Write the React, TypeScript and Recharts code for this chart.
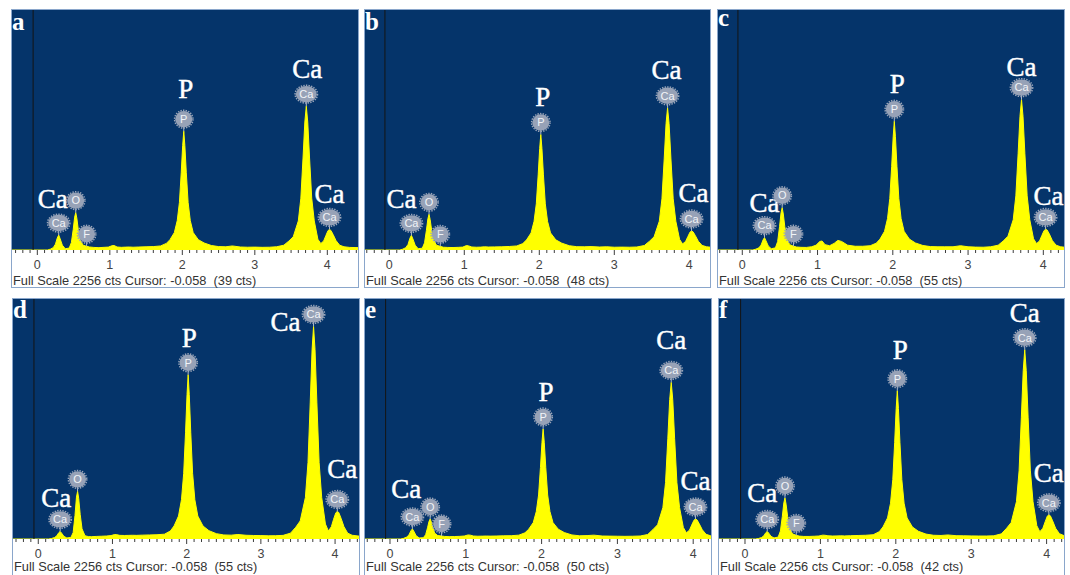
import React from 'react';
import { ComposedChart, Area, XAxis, YAxis, CartesianGrid, ReferenceLine, Scatter } from 'recharts';

// Energy grid (keV) shared by all six spectra
const ENERGY_KEV = [
  -0.4, 0.14, 0.18, 0.22, 0.25, 0.275, 0.295, 0.315, 0.345, 0.385,
  0.44, 0.47, 0.495, 0.515, 0.53, 0.545, 0.565, 0.59, 0.63, 0.68,
  0.72, 0.78, 0.85, 0.92, 0.98, 1.03, 1.06, 1.1, 1.16, 1.22,
  1.27, 1.32, 1.4, 1.5, 1.6, 1.7, 1.78, 1.83, 1.89, 1.93,
  1.96, 1.985, 2.005, 2.02, 2.035, 2.055, 2.08, 2.11, 2.15, 2.22,
  2.3, 2.4, 2.5, 2.6, 2.69, 2.8, 2.9, 3.0, 3.1, 3.2,
  3.3, 3.4, 3.47, 3.53, 3.6, 3.635, 3.665, 3.69, 3.71, 3.73,
  3.755, 3.785, 3.82, 3.87, 3.91, 3.95, 3.98, 4.01, 4.03, 4.05,
  4.08, 4.12, 4.17, 4.23, 4.31, 4.45,
];

// Counts for each spectrum (same order as ENERGY_KEV)
const SPEC_A = [
  0, 0, 8, 22, 55, 112, 140, 105, 45, 12,
  18, 70, 192, 308, 350, 298, 192, 98, 45, 35,
  28, 24, 22, 25, 27, 40, 42, 28, 25, 27,
  28, 26, 28, 30, 32, 38, 62, 97, 163, 275,
  445, 723, 979, 1112, 979, 723, 445, 275, 163, 97,
  66, 42, 32, 30, 38, 28, 26, 27, 25, 26,
  30, 45, 84, 124, 272, 485, 861, 1198, 1346, 1198,
  861, 485, 272, 100, 60, 85, 135, 182, 193, 183,
  145, 88, 45, 30, 24, 22,
];
const SPEC_B = [
  0, 0, 8, 22, 52, 110, 137, 103, 45, 12,
  17, 67, 184, 294, 334, 284, 184, 94, 44, 34,
  26, 24, 23, 25, 27, 42, 38, 28, 26, 27,
  30, 28, 29, 30, 33, 38, 60, 95, 160, 268,
  432, 703, 951, 1081, 951, 703, 432, 268, 160, 95,
  64, 40, 31, 30, 32, 28, 30, 26, 27, 26,
  28, 42, 83, 123, 270, 479, 852, 1185, 1331, 1185,
  852, 479, 270, 100, 57, 80, 125, 168, 178, 170,
  135, 82, 43, 30, 24, 22,
];
const SPEC_C = [
  0, 0, 8, 20, 46, 93, 116, 87, 38, 12,
  20, 79, 218, 348, 396, 337, 218, 111, 50, 36,
  28, 25, 24, 30, 45, 80, 84, 50, 40, 62,
  90, 80, 45, 35, 35, 40, 64, 102, 175, 295,
  482, 783, 1060, 1205, 1060, 783, 482, 295, 175, 102,
  66, 42, 32, 30, 30, 30, 40, 30, 27, 26,
  30, 45, 86, 129, 283, 507, 901, 1253, 1408, 1253,
  901, 507, 283, 105, 60, 85, 135, 182, 193, 188,
  150, 88, 45, 30, 24, 22,
];
const SPEC_D = [
  0, 0, 5, 14, 30, 58, 71, 55, 25, 10,
  15, 60, 220, 392, 446, 380, 230, 95, 30, 22,
  22, 24, 26, 28, 32, 42, 40, 34, 33, 34,
  35, 34, 36, 38, 40, 45, 75, 122, 215, 368,
  615, 1000, 1353, 1538, 1353, 1000, 615, 368, 215, 122,
  78, 50, 38, 36, 42, 35, 33, 32, 30, 31,
  34, 55, 110, 169, 388, 716, 1274, 1771, 1990, 1771,
  1274, 716, 388, 140, 75, 115, 185, 245, 258, 248,
  195, 115, 55, 35, 28, 25,
];
const SPEC_E = [
  0, 0, 6, 18, 38, 76, 94, 72, 30, 10,
  12, 40, 105, 165, 187, 160, 105, 55, 32, 28,
  24, 22, 23, 25, 28, 38, 36, 28, 26, 27,
  28, 27, 28, 30, 31, 36, 58, 92, 154, 257,
  412, 670, 906, 1030, 906, 670, 412, 257, 154, 92,
  60, 38, 30, 32, 36, 28, 27, 26, 25, 26,
  28, 42, 89, 133, 294, 528, 938, 1305, 1466, 1305,
  938, 528, 294, 108, 58, 82, 130, 176, 187, 180,
  142, 86, 44, 30, 24, 22,
];
const SPEC_F = [
  0, 0, 5, 14, 30, 58, 71, 55, 25, 10,
  18, 75, 211, 338, 384, 326, 211, 108, 48, 34,
  27, 24, 24, 26, 28, 36, 35, 30, 28, 29,
  30, 29, 31, 33, 35, 40, 68, 113, 197, 335,
  555, 902, 1221, 1388, 1221, 902, 555, 335, 197, 113,
  72, 46, 35, 33, 38, 31, 30, 29, 28, 28,
  30, 48, 101, 154, 349, 638, 1134, 1577, 1772, 1577,
  1134, 638, 349, 125, 68, 100, 160, 215, 227, 217,
  170, 100, 50, 32, 26, 23,
];

const FULL_SCALE = 2256;
const CURSOR_KEV = -0.058;
const CURSOR_COUNTS = [39, 48, 55, 55, 50, 42];
const PANEL_LETTERS = ['a', 'b', 'c', 'd', 'e', 'f'];
const MAJOR_TICKS = [0, 1, 2, 3, 4];
const SPECTRA = [SPEC_A, SPEC_B, SPEC_C, SPEC_D, SPEC_E, SPEC_F];

// peak indices into ENERGY_KEV
const I_CAL = 6, I_O = 14, I_F = 19, I_P = 43, I_CAKA = 68, I_CAKB = 78;

// annotation placement (pixel offsets of the big element labels)
const NOTES = [
  [{ i: I_CAL, tag: 'Ca', big: 'Ca', dx: -6, dy: -36 }, { i: I_O, tag: 'O' }, { i: I_F, tag: 'F' },
   { i: I_P, tag: 'P', big: 'P', dx: 2, dy: -42 }, { i: I_CAKA, tag: 'Ca', big: 'Ca', dx: 1, dy: -37 },
   { i: I_CAKB, tag: 'Ca', big: 'Ca', dx: 0, dy: -35 }],
  [{ i: I_CAL, tag: 'Ca', big: 'Ca', dx: -10, dy: -36 }, { i: I_O, tag: 'O' }, { i: I_F, tag: 'F' },
   { i: I_P, tag: 'P', big: 'P', dx: 2, dy: -38 }, { i: I_CAKA, tag: 'Ca', big: 'Ca', dx: -1, dy: -38 },
   { i: I_CAKB, tag: 'Ca', big: 'Ca', dx: 2, dy: -38 }],
  [{ i: I_CAL, tag: 'Ca', big: 'Ca', dx: 0, dy: -35 }, { i: I_O, tag: 'O' }, { i: I_F, tag: 'F' },
   { i: I_P, tag: 'P', big: 'P', dx: 3, dy: -37 }, { i: I_CAKA, tag: 'Ca', big: 'Ca', dx: 0, dy: -33 },
   { i: I_CAKB, tag: 'Ca', big: 'Ca', dx: 3, dy: -33 }],
  [{ i: I_CAL, tag: 'Ca', big: 'Ca', dx: -4, dy: -33 }, { i: I_O, tag: 'O' },
   { i: I_P, tag: 'P', big: 'P', dx: 1, dy: -37 }, { i: I_CAKA, tag: 'Ca', big: 'Ca', dx: -28, dy: -4 },
   { i: I_CAKB, tag: 'Ca', big: 'Ca', dx: 5, dy: -42 }],
  [{ i: I_CAL, tag: 'Ca', big: 'Ca', dx: -6, dy: -40 }, { i: I_O, tag: 'O' }, { i: I_F, tag: 'F' },
   { i: I_P, tag: 'P', big: 'P', dx: 3, dy: -37 }, { i: I_CAKA, tag: 'Ca', big: 'Ca', dx: 0, dy: -42 },
   { i: I_CAKB, tag: 'Ca', big: 'Ca', dx: 0, dy: -38 }],
  [{ i: I_CAL, tag: 'Ca', big: 'Ca', dx: -5, dy: -38 }, { i: I_O, tag: 'O' }, { i: I_F, tag: 'F' },
   { i: I_P, tag: 'P', big: 'P', dx: 3, dy: -41 }, { i: I_CAKA, tag: 'Ca', big: 'Ca', dx: 0, dy: -37 },
   { i: I_CAKB, tag: 'Ca', big: 'Ca', dx: 0, dy: -42 }],
];

const LAYOUT = [
  { left: 11, top: 9, width: 348, domain: [-0.363, 4.437], letterY: 21, footY: 276 },
  { left: 364, top: 9, width: 347, domain: [-0.337, 4.289], letterY: 21, footY: 276 },
  { left: 717, top: 9, width: 348, domain: [-0.336, 4.288], letterY: 17, footY: 276 },
  { left: 12, top: 298, width: 348, domain: [-0.354, 4.336], letterY: 20, footY: 273 },
  { left: 364, top: 298, width: 348, domain: [-0.343, 4.248], letterY: 20, footY: 273 },
  { left: 718, top: 298, width: 347, domain: [-0.358, 4.244], letterY: 20, footY: 273 },
];

const PANEL_H = 279;
const AXIS_H = 38;
const BG = '#05346a';
const YELLOW = '#ffff00';
const SANS = 'Liberation Sans, Arial, sans-serif';
const SERIF = 'Liberation Serif, Times New Roman, serif';

function minorTicks(lo: number, hi: number) {
  const out: number[] = [];
  for (let k = Math.ceil(lo * 10); k <= Math.floor(hi * 10); k++) out.push(k / 10);
  return out;
}

const Tick = (props: any) => {
  const { x, y, payload } = props;
  const v = payload.value;
  const major = MAJOR_TICKS.some((m) => Math.abs(m - v) < 1e-6);
  return (
    <g>
      <line x1={x} x2={x} y1={y} y2={y + (major ? 5 : 3)} stroke="#3c3c3c" strokeWidth={1} />
      {major && (
        <text x={x} y={y + 19} textAnchor="middle" fontSize={12.5} fontFamily={SANS} fill="#444">
          {Math.round(v)}
        </text>
      )}
    </g>
  );
};

const Marker = (props: any) => {
  const { cx, cy, payload } = props;
  if (cx == null || cy == null) return null;
  const wide = payload.tag === 'Ca';
  const rx = wide ? 10.5 : 8.5;
  const ry = 8.2;
  const by = cy - 12;
  return (
    <g>
      <line x1={cx} x2={cx} y1={by + ry - 1} y2={cy} stroke="#b3bccc" strokeWidth={1} />
      <ellipse cx={cx} cy={by} rx={rx + 0.7} ry={ry + 0.7} fill="none" stroke="#9aa5b9" strokeWidth={1.5} strokeDasharray="1.4 1.2" />
      <ellipse cx={cx} cy={by} rx={rx} ry={ry} fill="#97a2b7" />
      <text x={cx} y={by + 3.8} textAnchor="middle" fontSize={11} fontFamily={SANS} fill="#f2f4f8">
        {payload.tag}
      </text>
      {payload.big && (
        <text
          x={cx + payload.dx}
          y={cy + payload.dy + 9}
          textAnchor="middle"
          fontSize={27}
          fontFamily={SERIF}
          fill="#ffffff"
          stroke="#ffffff"
          strokeWidth={0.45}
        >
          {payload.big}
        </text>
      )}
    </g>
  );
};

function Panel({ idx }: { idx: number }) {
  const lay = LAYOUT[idx];
  const spec = SPECTRA[idx];
  const data = ENERGY_KEV.map((e, k) => ({ e, c: spec[k] }));
  const notes = NOTES[idx].map((n: any) => ({ ...n, e: ENERGY_KEV[n.i], c: spec[n.i] }));
  const ticks = minorTicks(lay.domain[0], lay.domain[1]);
  return (
    <div style={{ position: 'absolute', left: lay.left, top: lay.top, width: lay.width, height: PANEL_H }}>
      <ComposedChart width={lay.width} height={PANEL_H} data={data} margin={{ top: 0, right: 0, bottom: 0, left: 0 }}>
        <CartesianGrid horizontal={false} vertical={false} fill={BG} fillOpacity={1} />
        <XAxis
          dataKey="e"
          type="number"
          domain={lay.domain}
          allowDataOverflow
          ticks={ticks}
          interval={0}
          tick={<Tick />}
          tickLine={false}
          axisLine={false}
          tickSize={0}
          tickMargin={0}
          height={AXIS_H}
        />
        <YAxis type="number" dataKey="c" domain={[0, FULL_SCALE]} allowDataOverflow hide />
        <Area
          type="linear"
          dataKey="c"
          stroke={YELLOW}
          strokeWidth={1}
          fill={YELLOW}
          fillOpacity={1}
          isAnimationActive={false}
          dot={false}
          activeDot={false}
        />
        <ReferenceLine x={CURSOR_KEV} stroke="#141414" strokeWidth={1} />
        <Scatter data={notes} dataKey="c" shape={(p: any) => <Marker {...p} />} isAnimationActive={false} />
      </ComposedChart>
      <svg
        width={lay.width}
        height={PANEL_H}
        style={{ position: 'absolute', left: 0, top: 0, pointerEvents: 'none', overflow: 'visible' }}
      >
        <rect x={0.5} y={0.5} width={lay.width - 1} height={PANEL_H - 1} fill="none" stroke="#8aa6cb" strokeWidth={1} />
        <text x={1} y={lay.letterY} fontSize={25} fontWeight="bold" fontFamily={SERIF} fill="#ffffff">
          {PANEL_LETTERS[idx]}
        </text>
        <text x={2} y={lay.footY} fontSize={12.8} fontFamily={SANS} fill="#333" style={{ whiteSpace: 'pre' }}>
          {`Full Scale ${FULL_SCALE} cts Cursor: ${CURSOR_KEV.toFixed(3)}  (${CURSOR_COUNTS[idx]} cts)`}
        </text>
      </svg>
    </div>
  );
}

export default function App() {
  return (
    <div style={{ position: 'absolute', left: 0, top: 0, width: 1070, height: 575, overflow: 'hidden', background: '#fff' }}>
      {LAYOUT.map((_, i) => (
        <Panel key={i} idx={i} />
      ))}
    </div>
  );
}
